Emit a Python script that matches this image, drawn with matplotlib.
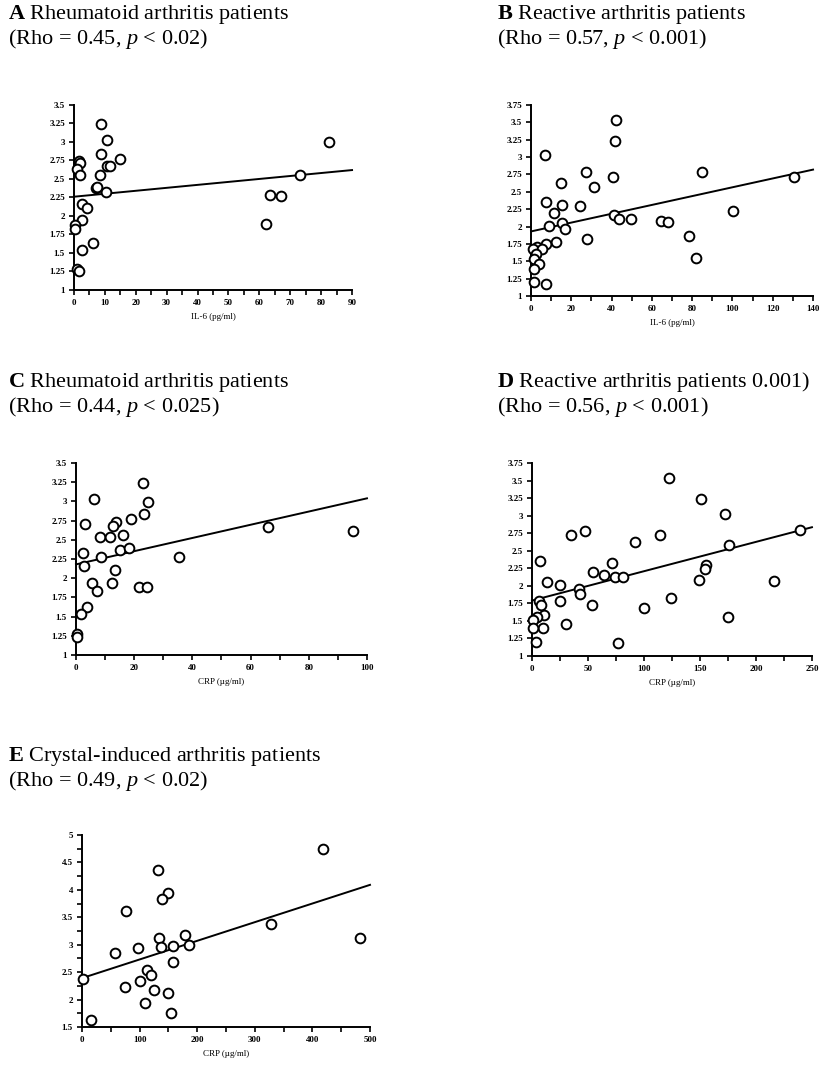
import numpy as np
import matplotlib
matplotlib.use('Agg')
import matplotlib.pyplot as plt
from matplotlib.ticker import MultipleLocator, FormatStrFormatter

plt.rcParams['font.family'] = ['Liberation Serif', 'DejaVu Serif']
plt.rcParams['mathtext.fontset'] = 'custom'
plt.rcParams['mathtext.rm'] = 'Liberation Serif'
plt.rcParams['mathtext.it'] = 'Liberation Serif:italic'
plt.rcParams['mathtext.bf'] = 'Liberation Serif:bold'

# A: rheumatoid, IL-6
a_x = [8.8, 10.8, 8.8, 14.9, 1.7, 2.1, 10.8, 11.5, 0.9, 2.1, 8.4, 7.1, 7.5, 10.4,
       2.6, 4.3, 2.6, 0.4, 0.2, 2.6, 6.2, 1.1, 1.7, 62.1, 63.6, 67.0, 73.3, 82.5]
a_y = [3.24, 3.03, 2.84, 2.77, 2.74, 2.71, 2.67, 2.68, 2.64, 2.55, 2.55, 2.38, 2.39, 2.33,
       2.16, 2.11, 1.94, 1.88, 1.83, 1.54, 1.63, 1.28, 1.25, 1.89, 2.28, 2.27, 2.56, 3.0]
a_fit_x = [0, 90]
a_fit_y = [2.26, 2.62]

# B: reactive, IL-6
b_x = [42.4, 41.9, 7.0, 27.2, 84.8, 40.6, 130.5, 14.7, 31.1, 7.6, 15.6, 24.5, 11.6,
       100.2, 41.1, 43.5, 49.7, 64.6, 68.0, 15.6, 8.9, 16.9, 28.0, 12.3, 7.5, 78.5,
       81.8, 3.0, 1.2, 5.3, 2.3, 1.3, 4.1, 1.7, 1.7, 7.6]
b_y = [3.53, 3.23, 3.03, 2.78, 2.78, 2.72, 2.72, 2.63, 2.57, 2.35, 2.31, 2.29, 2.19,
       2.22, 2.16, 2.11, 2.11, 2.08, 2.06, 2.05, 2.01, 1.96, 1.82, 1.78, 1.75, 1.87,
       1.55, 1.71, 1.67, 1.68, 1.60, 1.53, 1.46, 1.39, 1.20, 1.17]
b_fit_x = [0, 140]
b_fit_y = [1.93, 2.82]

# C: rheumatoid, CRP
c_x = [23.1, 6.1, 24.7, 23.5, 18.9, 13.9, 12.7, 3.2, 8.2, 11.6, 16.0, 15.1, 18.1,
       2.3, 8.7, 35.4, 2.7, 13.4, 5.6, 12.4, 7.1, 21.8, 24.5, 65.9, 95.1, 3.9, 1.6,
       0.4, 0.4]
c_y = [3.24, 3.03, 2.99, 2.84, 2.77, 2.73, 2.68, 2.70, 2.54, 2.54, 2.56, 2.37, 2.39,
       2.33, 2.27, 2.28, 2.16, 2.11, 1.94, 1.94, 1.84, 1.89, 1.89, 2.67, 2.61, 1.63,
       1.54, 1.27, 1.24]
c_fit_x = [0, 100]
c_fit_y = [2.18, 3.04]

# D: reactive, CRP
d_x = [122.6, 150.6, 172.3, 34.5, 47.6, 114.0, 91.7, 175.9, 7.4, 71.7, 155.7, 154.8,
       54.8, 64.3, 73.8, 81.0, 149.4, 216.1, 13.1, 25.0, 41.7, 42.9, 25.0, 53.6, 123.8,
       99.7, 6.0, 7.7, 10.7, 4.8, 1.2, 9.5, 1.2, 30.1, 175.0, 76.8, 3.6, 239.0]
d_y = [3.54, 3.24, 3.03, 2.72, 2.78, 2.73, 2.63, 2.58, 2.35, 2.32, 2.30, 2.24,
       2.20, 2.16, 2.12, 2.12, 2.08, 2.07, 2.05, 2.01, 1.96, 1.89, 1.79, 1.72, 1.82,
       1.68, 1.78, 1.72, 1.59, 1.56, 1.52, 1.40, 1.40, 1.46, 1.55, 1.18, 1.20, 2.79]
d_fit_x = [0, 250]
d_fit_y = [1.79, 2.835]

# E: crystal-induced, CRP
e_x = [418, 132, 150, 139, 76, 328, 483, 179, 134, 137, 158, 185, 97, 58, 158, 113,
       2, 15, 75, 100, 110, 120, 125, 150, 155]
e_y = [4.74, 4.36, 3.95, 3.83, 3.61, 3.37, 3.13, 3.17, 3.12, 2.96, 2.98, 3.00, 2.94,
       2.84, 2.69, 2.53, 2.37, 1.62, 2.22, 2.33, 1.93, 2.45, 2.17, 2.12, 1.75]
e_fit_x = [0, 500]
e_fit_y = [2.39, 4.09]

panels = [
    dict(rect=[0.0886, 0.7300, 0.3330, 0.1723], x=a_x, y=a_y, fx=a_fit_x, fy=a_fit_y,
         xlim=(0, 90), ylim=(1, 3.5), xmaj=10, xmin=5, ymaj=0.25, ymin=0.25,
         xlabel='IL-6 (pg/ml)', letter='A', name='Rheumatoid arthritis patients',
         stat='(Rho = 0.45, $\\mathit{p}$ < 0.02)', tx=0.0096, ty=0.9823),
    dict(rect=[0.6360, 0.7244, 0.3377, 0.1778], x=b_x, y=b_y, fx=b_fit_x, fy=b_fit_y,
         xlim=(0, 140), ylim=(1, 3.75), xmaj=20, xmin=10, ymaj=0.25, ymin=0.25,
         xlabel='IL-6 (pg/ml)', letter='B', name='Reactive arthritis patients',
         stat='(Rho = 0.57, $\\mathit{p}$ < 0.001)', tx=0.5950, ty=0.9823),
    dict(rect=[0.0910, 0.3901, 0.3485, 0.1788], x=c_x, y=c_y, fx=c_fit_x, fy=c_fit_y,
         xlim=(0, 100), ylim=(1, 3.5), xmaj=20, xmin=10, ymaj=0.25, ymin=0.25,
         xlabel='CRP (µg/ml)', letter='C', name='Rheumatoid arthritis patients',
         stat='(Rho = 0.44, $\\mathit{p}$ < 0.025)', tx=0.0096, ty=0.6397),
    dict(rect=[0.6371, 0.3892, 0.3353, 0.1797], x=d_x, y=d_y, fx=d_fit_x, fy=d_fit_y,
         xlim=(0, 250), ylim=(1, 3.75), xmaj=50, xmin=25, ymaj=0.25, ymin=0.25,
         xlabel='CRP (µg/ml)', letter='D', name='Reactive arthritis patients 0.001)',
         stat='(Rho = 0.56, $\\mathit{p}$ < 0.001)', tx=0.5950, ty=0.6397),
    dict(rect=[0.0982, 0.0438, 0.3449, 0.1788], x=e_x, y=e_y, fx=e_fit_x, fy=e_fit_y,
         xlim=(0, 500), ylim=(1.5, 5), xmaj=100, xmin=50, ymaj=0.5, ymin=0.25,
         xlabel='CRP (µg/ml)', letter='E', name='Crystal-induced arthritis patients',
         stat='(Rho = 0.49, $\\mathit{p}$ < 0.02)', tx=0.0096, ty=0.2914),
]

fig = plt.figure(figsize=(8.35, 10.74), dpi=100)

for p in panels:
    ax = fig.add_axes(p['rect'])
    ax.plot(p['fx'], p['fy'], color='black', lw=1.4, clip_on=False, zorder=2)
    ax.plot(p['x'], p['y'], 'o', mfc='white', mec='black', ms=7, mew=1.4,
            clip_on=False, zorder=3)
    ax.set_xlim(p['xlim'])
    ax.set_ylim(p['ylim'])
    ax.spines['top'].set_visible(False)
    ax.spines['right'].set_visible(False)
    for s in ('left', 'bottom'):
        ax.spines[s].set_linewidth(1.4)
    ax.xaxis.set_major_locator(MultipleLocator(p['xmaj']))
    ax.xaxis.set_minor_locator(MultipleLocator(p['xmin']))
    ax.yaxis.set_major_locator(MultipleLocator(p['ymaj']))
    ax.yaxis.set_minor_locator(MultipleLocator(p['ymin']))
    ax.yaxis.set_major_formatter(FormatStrFormatter('%g'))
    ax.tick_params(which='both', direction='out', length=3.5, width=1.2,
                   labelsize=6.5, pad=3)
    for lab in ax.get_xticklabels() + ax.get_yticklabels():
        lab.set_fontweight('bold')
    ax.set_xlabel(p['xlabel'], fontsize=6.5, labelpad=4)
    fig.text(p['tx'], p['ty'], '$\\mathbf{' + p['letter'] + '}$ ' + p['name'],
             fontsize=16, va='baseline', ha='left')
    fig.text(p['tx'], p['ty'] - 0.0233, p['stat'], fontsize=16,
             va='baseline', ha='left')

fig.savefig('out.png', dpi=100)
